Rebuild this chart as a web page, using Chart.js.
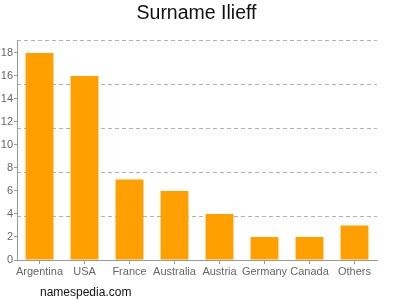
<!DOCTYPE html>
<html>
<head>
<meta charset="utf-8">
<script src="https://cdn.jsdelivr.net/npm/chart.js@4/dist/chart.umd.min.js"></script>
<style>
  html, body { margin: 0; padding: 0; background: #fff; }
  #wrap { position: relative; width: 400px; height: 300px; }
  #src { position: absolute; left: 40px; top: 285px; font: 12px "Liberation Sans", Arial, sans-serif; color: #111; }
</style>
</head>
<body>
<div id="wrap">
  <canvas id="c" width="400" height="300"></canvas>
  <div id="src">namespedia.com</div>
</div>
<script>
const categories = ["Argentina", "USA", "France", "Australia", "Austria", "Germany", "Canada", "Others"];
const counts = [18, 16, 7, 6, 4, 2, 2, 3];
const titleText = "Surname Ilieff";

const FONT = "'Liberation Sans', Arial, sans-serif";

new Chart(document.getElementById('c'), {
  type: 'bar',
  data: {
    labels: categories,
    datasets: [{
      data: counts,
      backgroundColor: '#ffa000',
      borderWidth: 0,
      categoryPercentage: 1,
      barPercentage: 0.62,
      yAxisID: 'y'
    }]
  },
  options: {
    responsive: false,
    animation: false,
    layout: { padding: { left: 0, right: 7, top: 0, bottom: 0 } },
    plugins: {
      legend: { display: false },
      tooltip: { enabled: false },
      title: {
        display: true,
        text: titleText,
        color: '#111',
        font: { family: FONT, size: 19.5, weight: 'normal', lineHeight: 1.2 },
        padding: { top: 2, bottom: 14.6 }
      }
    },
    scales: {
      x: {
        offset: true,
        grid: { display: true, drawOnChartArea: false, offset: false, tickLength: 4, color: '#999' },
        border: { display: true, color: '#999' },
        ticks: { color: '#666', font: { family: FONT, size: 11 }, padding: 1, maxRotation: 0, autoSkip: false },
        afterFit: s => { s.height = 40; }
      },
      y: {
        position: 'left',
        min: 0,
        max: 19.13,
        grid: { display: true, drawOnChartArea: false, tickLength: 3, color: '#999' },
        border: { display: true, color: '#999' },
        ticks: { stepSize: 2, color: '#666', font: { family: FONT, size: 11 }, padding: 1 },
        afterBuildTicks: s => { s.ticks = s.ticks.filter(t => Math.abs(t.value / 2 - Math.round(t.value / 2)) < 1e-6); },
        afterFit: s => { s.width = 17; }
      },
      g: {
        position: 'left',
        min: 0,
        max: 5,
        grid: {
          display: true,
          drawTicks: false,
          color: ctx => (ctx.tick && ctx.tick.value === 0) ? 'rgba(0,0,0,0)' : '#b0b0b0',
          lineWidth: 1
        },
        border: { display: false, dash: [4, 3] },
        ticks: { display: false, stepSize: 1 },
        afterFit: s => { s.width = 0; }
      },
      r: {
        position: 'right',
        min: 0,
        max: 1,
        grid: { display: false },
        border: { display: false },
        ticks: { display: false },
        afterFit: s => { s.width = 16; }
      }
    }
  }
});
</script>
</body>
</html>
